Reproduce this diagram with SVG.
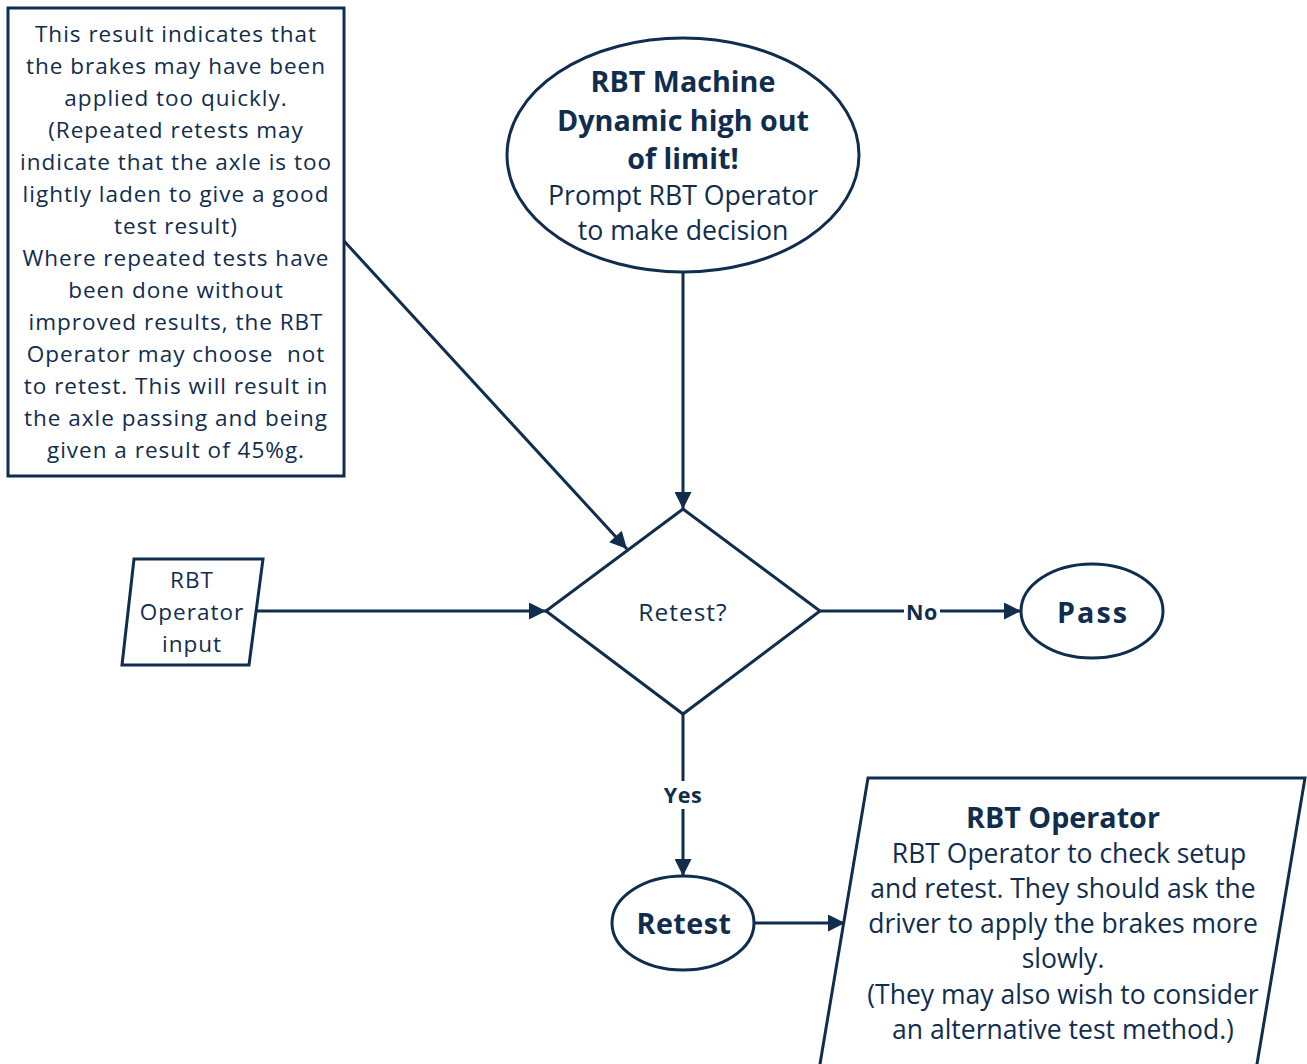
<svg xmlns="http://www.w3.org/2000/svg" width="1307" height="1064" viewBox="0 0 1307 1064">
<defs>
<style>
.s{fill:#fff;stroke:#112d4e;stroke-width:3}
.c{fill:none;stroke:#112d4e;stroke-width:3}
text{font-family:"Open Sans","Noto Sans",sans-serif;fill:#112d4e;text-anchor:middle;dominant-baseline:central}
.n{font-size:22.5px;letter-spacing:1px}
.m{font-size:26.7px}
.r{font-size:26.5px}
.b{font-weight:bold;font-size:28.7px}
.l{font-weight:bold;font-size:21.5px;letter-spacing:0.5px}
</style>
<marker id="ah" viewBox="0 0 10 10" refX="10" refY="5" markerWidth="18" markerHeight="17" markerUnits="userSpaceOnUse" orient="auto">
<path d="M0,0 L10,5 L0,10 z" fill="#112d4e"/>
</marker>
</defs>
<rect width="1307" height="1064" fill="#fff"/>
<g id="connectors">
<line class="c" x1="683" y1="272" x2="683" y2="509" marker-end="url(#ah)"/>
<line class="c" x1="344" y1="241" x2="627" y2="549" marker-end="url(#ah)"/>
<line class="c" x1="256" y1="611" x2="546" y2="611" marker-end="url(#ah)"/>
<line class="c" x1="820" y1="611" x2="1021" y2="611" marker-end="url(#ah)"/>
<line class="c" x1="683" y1="714" x2="683" y2="876" marker-end="url(#ah)"/>
<line class="c" x1="754" y1="923" x2="845" y2="923" marker-end="url(#ah)"/>
<rect x="904" y="600" width="36" height="22" fill="#fff"/>
<text class="l" x="922" y="611">No</text>
<rect x="659" y="781" width="48" height="28" fill="#fff"/>
<text class="l" x="683" y="794">Yes</text>
</g>
<g id="note">
<rect class="s" x="8" y="8" width="336" height="468"/>
<text class="n" x="176" y="33">This result indicates that</text>
<text class="n" x="176" y="65">the brakes may have been</text>
<text class="n" x="176" y="97">applied too quickly.</text>
<text class="n" x="176" y="129">(Repeated retests may</text>
<text class="n" x="176" y="161">indicate that the axle is too</text>
<text class="n" x="176" y="193">lightly laden to give a good</text>
<text class="n" x="176" y="225">test result)</text>
<text class="n" x="176" y="257">Where repeated tests have</text>
<text class="n" x="176" y="289">been done without</text>
<text class="n" x="176" y="321">improved results, the RBT</text>
<text class="n" x="176" y="353" style="white-space:pre">Operator may choose  not</text>
<text class="n" x="176" y="385">to retest. This will result in</text>
<text class="n" x="176" y="417">the axle passing and being</text>
<text class="n" x="176" y="449">given a result of 45%g.</text>
</g>
<g id="start">
<ellipse class="s" cx="683" cy="155" rx="176" ry="117"/>
<text class="b" x="683" y="80">RBT Machine</text>
<text class="b" x="683" y="119">Dynamic high out</text>
<text class="b" x="683" y="157">of limit!</text>
<text class="m" x="683" y="194">Prompt RBT Operator</text>
<text class="m" x="683" y="229">to make decision</text>
</g>
<g id="decision">
<polygon class="s" points="683,509 820,611 683,714 546,611"/>
<text class="n" x="683" y="611" style="font-size:24.5px">Retest?</text>
</g>
<g id="input">
<polygon class="s" points="134,559 263,559 249,665 122,665"/>
<text class="n" x="192" y="579">RBT</text>
<text class="n" x="192" y="611">Operator</text>
<text class="n" x="192" y="643">input</text>
</g>
<g id="pass">
<ellipse class="s" cx="1092" cy="611" rx="71" ry="47"/>
<text class="b" x="1093" y="611" style="letter-spacing:2px">Pass</text>
</g>
<g id="retest">
<ellipse class="s" cx="683" cy="923" rx="71" ry="47"/>
<text class="b" x="684" y="922" style="letter-spacing:0.5px">Retest</text>
</g>
<g id="operator">
<polygon class="s" points="868,778 1305,778 1256,1070 819,1070"/>
<text class="b" x="1063" y="816">RBT Operator</text>
<text class="r" x="1069" y="853">RBT Operator to check setup</text>
<text class="r" x="1063" y="888">and retest. They should ask the</text>
<text class="r" x="1063" y="923">driver to apply the brakes more</text>
<text class="r" x="1063" y="958">slowly.</text>
<text class="r" x="1063" y="994">(They may also wish to consider</text>
<text class="r" x="1063" y="1029">an alternative test method.)</text>
</g>
</svg>
